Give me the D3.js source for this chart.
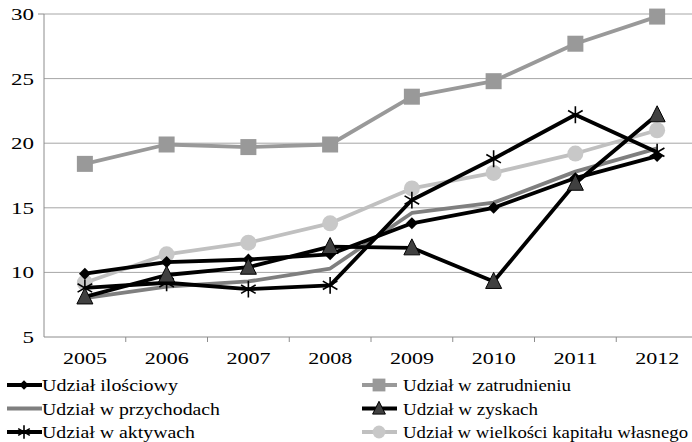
<!DOCTYPE html>
<html>
<head>
<meta charset="utf-8">
<script src="https://cdn.jsdelivr.net/npm/d3@7"></script>
<style>
  body { margin: 0; background: #fff; }
  text { font-family: "Liberation Serif", "Times New Roman", Times, serif; fill: #000; }
</style>
</head>
<body>
<div id="chart"></div>
<script>
var years = ["2005", "2006", "2007", "2008", "2009", "2010", "2011", "2012"];
var yTicks = [5, 10, 15, 20, 25, 30];

var ilosciowy    = [9.9, 10.8, 11.0, 11.4, 13.8, 15.0, 17.3, 19.0];
var zatrudnienie = [18.4, 19.9, 19.7, 19.9, 23.6, 24.8, 27.7, 29.8];
var przychody    = [8.0, 8.9, 9.3, 10.3, 14.6, 15.4, 17.8, 19.6];
var zyski        = [8.1, 9.8, 10.4, 12.0, 11.9, 9.3, 16.9, 22.2];
var aktywa       = [8.8, 9.2, 8.7, 9.0, 15.6, 18.8, 22.2, 19.3];
var kapital      = [9.2, 11.4, 12.3, 13.8, 16.5, 17.7, 19.2, 21.0];

var seriesNames = ["Udział ilościowy", "Udział w zatrudnieniu", "Udział w przychodach",
  "Udział w zyskach", "Udział w aktywach", "Udział w wielkości kapitału własnego"];
// widths of the legend texts as they appear (text is stretched in the picture)
var legendWidths = [136, 168, 178, 135, 153, 285];

var svgWidth = 692, svgHeight = 442;

var svg = d3.select("#chart").append("svg")
  .attr("width", svgWidth)
  .attr("height", svgHeight);

var x = d3.scaleBand().domain(years).range([44, 698]);
var y = d3.scaleLinear().domain([5, 30]).range([337, 14]);

// gridlines
svg.append("g").selectAll("line")
  .data(yTicks.slice(1))
  .enter().append("line")
  .attr("x1", 44).attr("x2", svgWidth)
  .attr("y1", d => y(d)).attr("y2", d => y(d))
  .attr("stroke", "#a6a6a6").attr("stroke-width", 1);

// axes
svg.append("line").attr("x1", 44).attr("x2", 44).attr("y1", y(30)).attr("y2", y(5))
  .attr("stroke", "#8c8c8c");
svg.append("line").attr("x1", 44).attr("x2", svgWidth).attr("y1", y(5)).attr("y2", y(5))
  .attr("stroke", "#8c8c8c");
svg.append("g").selectAll("line")
  .data(years)
  .enter().append("line")
  .attr("x1", d => x(d) + x.bandwidth()).attr("x2", d => x(d) + x.bandwidth())
  .attr("y1", y(5)).attr("y2", y(5) + 5)
  .attr("stroke", "#8c8c8c");
svg.append("line").attr("x1", 38).attr("x2", 44).attr("y1", y(30)).attr("y2", y(30))
  .attr("stroke", "#8c8c8c");

function stretchedText(g, tx, ty, txt, anchor, size, len) {
  return g.append("text")
    .attr("x", tx).attr("y", ty)
    .attr("text-anchor", anchor)
    .attr("font-size", size)
    .attr("textLength", len)
    .attr("lengthAdjust", "spacingAndGlyphs")
    .text(txt);
}

var labels = svg.append("g");
yTicks.forEach(function(t) {
  stretchedText(labels, 34, y(t) + 6, t, "end", 17, String(t).length * 11.5);
});
years.forEach(function(yr) {
  stretchedText(labels, x(yr) + x.bandwidth() / 2, 364, yr, "middle", 17, 44);
});

var line = d3.line()
  .x((d, i) => x(years[i]) + x.bandwidth() / 2)
  .y(d => y(d));

var series = [
  { name: seriesNames[2], values: przychody, color: "#7f7f7f", marker: "none" },
  { name: seriesNames[1], values: zatrudnienie, color: "#999999", marker: "square", fill: "#999999" },
  { name: seriesNames[5], values: kapital, color: "#c0c0c0", marker: "circle", fill: "#c8c8c8" },
  { name: seriesNames[0], values: ilosciowy, color: "#000", marker: "diamond", fill: "#000" },
  { name: seriesNames[4], values: aktywa, color: "#000", marker: "star", fill: "#000" },
  { name: seriesNames[3], values: zyski, color: "#000", marker: "triangle", fill: "#404040" }
];

function drawMarker(g, type, fill, cx, cy, small) {
  var k = small ? 0.8 : 1;
  if (type === "square") {
    g.append("rect").attr("x", cx - 8 * k).attr("y", cy - 8 * k)
      .attr("width", 16 * k).attr("height", 16 * k).attr("fill", fill);
  } else if (type === "circle") {
    g.append("circle").attr("cx", cx).attr("cy", cy).attr("r", 8 * k).attr("fill", fill);
  } else if (type === "diamond") {
    g.append("path").attr("d", d3.symbol(d3.symbolDiamond2, 90 * k * k)())
      .attr("transform", `translate(${cx},${cy})`).attr("fill", fill);
  } else if (type === "triangle") {
    g.append("path").attr("d", `M${cx},${cy - 9 * k}L${cx + 8 * k},${cy + 7 * k}L${cx - 8 * k},${cy + 7 * k}Z`)
      .attr("fill", fill).attr("stroke", "#000").attr("stroke-width", 1);
  } else if (type === "star") {
    g.append("path").attr("d", d3.symbol(d3.symbolAsterisk, 200 * k * k)())
      .attr("transform", `translate(${cx},${cy})`)
      .attr("fill", "none").attr("stroke", "#000").attr("stroke-width", 1.6);
  }
}

var plot = svg.append("g");
series.forEach(function(s) {
  plot.append("path")
    .datum(s.values)
    .attr("d", line)
    .attr("fill", "none")
    .attr("stroke", s.color)
    .attr("stroke-width", 3.8)
    .attr("stroke-linejoin", "round");
  var mg = plot.append("g");
  s.values.forEach(function(v, i) {
    drawMarker(mg, s.marker, s.fill, x(years[i]) + x.bandwidth() / 2, y(v), false);
  });
});

// legend
var legendOrder = [
  { name: seriesNames[0], color: "#000", marker: "diamond", fill: "#000" },
  { name: seriesNames[1], color: "#999999", marker: "square", fill: "#999999" },
  { name: seriesNames[2], color: "#7f7f7f", marker: "none" },
  { name: seriesNames[3], color: "#000", marker: "triangle", fill: "#404040" },
  { name: seriesNames[4], color: "#000", marker: "star", fill: "#000" },
  { name: seriesNames[5], color: "#c0c0c0", marker: "circle", fill: "#c8c8c8" }
];
var legend = svg.append("g");
legendOrder.forEach(function(s, i) {
  var col = i % 2, row = Math.floor(i / 2);
  var lx = col === 0 ? 7 : 362;
  var ly = 385 + row * 23.5;
  legend.append("line").attr("x1", lx).attr("x2", lx + 35)
    .attr("y1", ly).attr("y2", ly)
    .attr("stroke", s.color).attr("stroke-width", 3.8);
  drawMarker(legend, s.marker, s.fill, lx + 17, ly, true);
  stretchedText(legend, lx + (col === 0 ? 35 : 41), ly + 6, s.name, "start", 17, legendWidths[i]);
});
</script>
</body>
</html>
